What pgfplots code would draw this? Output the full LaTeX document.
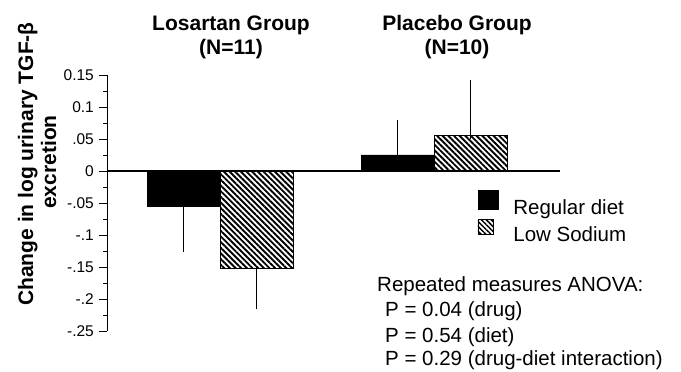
\documentclass[border=0pt]{standalone}
\usepackage{pgfplots}
\pgfplotsset{compat=1.18}
\usepackage{fontspec}
\setmainfont{Liberation Sans}
\usetikzlibrary{patterns.meta}
\begin{document}
\begin{tikzpicture}
\path[use as bounding box] (0,0) rectangle (681bp,372bp);
\begin{axis}[
  at={(107bp,41bp)}, anchor=south west,
  scale only axis, width=453bp, height=256bp,
  xmin=107, xmax=560, ymin=-0.25, ymax=0.15,
  axis x line=none, axis y line*=left,
  ytick={-0.25,-0.2,-0.15,-0.1,-0.05,0,0.05,0.1,0.15},
  yticklabels={-.25,-.2,-.15,-.1,-.05,0,.05,0.1,0.15},
  minor y tick num=1,
  tick align=outside,
  major tick length=8bp, minor tick length=4bp,
  tick style={black, line width=0.8bp},
  y axis line style={line width=0.9bp},
  yticklabel style={font=\fontsize{15.5bp}{18bp}\selectfont, inner sep=0pt, xshift=-5bp},
  /pgf/number format/assume math mode=true,
  clip=false,
  legend style={draw=none, fill=none, at={(axis cs:477,-0.030)}, anchor=north west,
    font=\fontsize{20.5bp}{24bp}\selectfont, row sep=1bp, inner sep=0pt,
    /tikz/every odd column/.append style={column sep=13bp}},
  legend cell align=left,
]
\addplot[ybar, bar shift=0pt, bar width=73, fill=black, draw=black, line width=0.8bp,
  legend image code/.code={\fill[black] (0bp,-2bp) rectangle (20bp,17bp);},
  error bars/.cd, y dir=both, y explicit,
  error bar style={line width=0.7bp, black},
  error mark options={line width=0.8bp, mark size=3bp, black}]
  coordinates {(183.5,-0.056) += (0,0) -= (0,0.066) (397.5,0.025) += (0,0.050) -= (0,0)};
\addlegendentry{Regular diet}
\addplot[ybar, bar shift=0pt, bar width=73, draw=black, line width=0.9bp,
  pattern={Lines[angle=-45, distance=4bp, line width=1.9bp]},
  legend image code/.code={\draw[line width=0.6bp, pattern={Lines[angle=-45, distance=3.5bp, line width=1.5bp]}] (0bp,0bp) rectangle (15bp,15bp); \path (20bp,0bp);},
  error bars/.cd, y dir=both, y explicit,
  error bar style={line width=0.7bp, black},
  error mark options={line width=0.8bp, mark size=3bp, black}]
  coordinates {(256.5,-0.153) += (0,0) -= (0,0.058) (470.5,0.055) += (0,0.082) -= (0,0)};
\addlegendentry{Low Sodium}
\draw[line width=1.1bp] (axis cs:107,0) -- (axis cs:560,0);
\end{axis}
\begin{scope}[every node/.style={inner sep=0pt}]
\node[anchor=base, font=\bfseries\fontsize{21bp}{24bp}\selectfont] at (231bp,341bp) {Losartan Group};
\node[anchor=base, font=\bfseries\fontsize{21bp}{24bp}\selectfont] at (231bp,317bp) {(N=11)};
\node[anchor=base, font=\bfseries\fontsize{21bp}{24bp}\selectfont] at (457bp,341bp) {Placebo Group};
\node[anchor=base, font=\bfseries\fontsize{21bp}{24bp}\selectfont] at (457bp,317bp) {(N=10)};
\node[anchor=base, rotate=90, font=\bfseries\fontsize{21bp}{24bp}\selectfont] at (33bp,208bp) {Change in log urinary TGF-β};
\node[anchor=base, rotate=90, font=\bfseries\fontsize{21bp}{24bp}\selectfont] at (56bp,210bp) {excretion};
\node[anchor=base west, font=\fontsize{20.5bp}{24bp}\selectfont] at (377bp,80bp) {Repeated measures ANOVA:};
\node[anchor=base west, font=\fontsize{20.5bp}{24bp}\selectfont] at (385bp,55bp) {P = 0.04 (drug)};
\node[anchor=base west, font=\fontsize{20.5bp}{24bp}\selectfont] at (385bp,30bp) {P = 0.54 (diet)};
\node[anchor=base west, font=\fontsize{20.5bp}{24bp}\selectfont] at (385bp,7bp) {P = 0.29 (drug-diet interaction)};
\end{scope}
\end{tikzpicture}
\end{document}
